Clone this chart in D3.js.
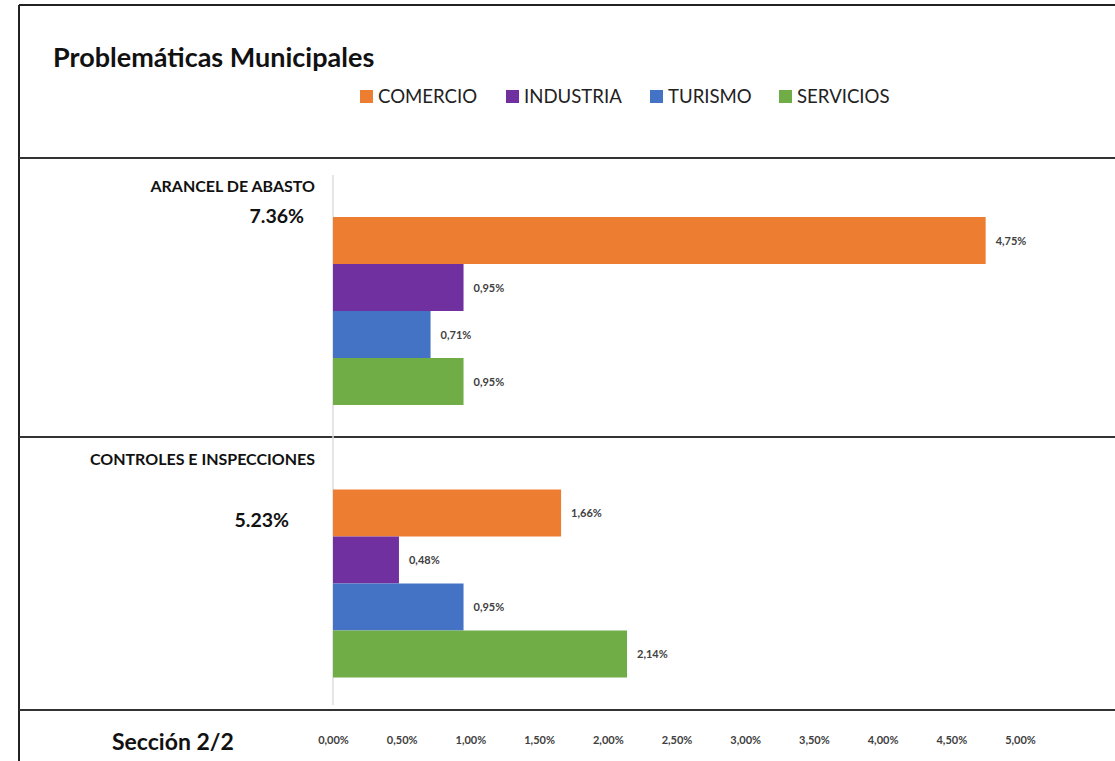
<!DOCTYPE html>
<head>
  <meta charset="utf-8">
  <title>Problemáticas Municipales</title>
  <script src="https://d3js.org/d3.v7.min.js"></script>
  <style>
    body { margin: 0; background: #fff; font-family: Lato, "Open Sans", sans-serif; }
  </style>
</head>
<body>
  <div id="chart"></div>
  <script>
    // Daten
    var categories = ['ARANCEL DE ABASTO', 'CONTROLES E INSPECCIONES'];
    var totals = ['7.36%', '5.23%'];
    var series = ['COMERCIO', 'INDUSTRIA', 'TURISMO', 'SERVICIOS'];
    var colors = ['#ED7D31', '#7030A0', '#4472C4', '#70AD47'];
    var values = [
      [0.0475, 0.0095, 0.0071, 0.0095],
      [0.0166, 0.0048, 0.0095, 0.0214]
    ];
    var ticks = [0, 0.005, 0.01, 0.015, 0.02, 0.025, 0.03, 0.035, 0.04, 0.045, 0.05];

    var width = 1115, height = 761;
    var fmt = function (v) { return (v * 100).toFixed(2).replace('.', ',') + '%'; };

    var svg = d3.select('#chart').append('svg')
      .attr('width', width)
      .attr('height', height);

    var x = d3.scaleLinear().domain([0, 0.05]).range([333, 1020]);
    var yGroup = d3.scaleBand().domain(categories).range([175, 720]);
    var ySeries = d3.scaleBand().domain(series).range([42, 230]);

    // Rahmen
    svg.append('line').attr('x1', 19).attr('x2', 19).attr('y1', 5).attr('y2', height)
      .attr('stroke', '#222').attr('stroke-width', 2);
    svg.append('line').attr('x1', 19).attr('x2', width).attr('y1', 5).attr('y2', 5)
      .attr('stroke', '#222').attr('stroke-width', 2);
    [158, 437, 710].forEach(function (yy) {
      svg.append('line').attr('x1', 19).attr('x2', width).attr('y1', yy).attr('y2', yy)
        .attr('stroke', '#333').attr('stroke-width', 2);
    });

    // Titel
    svg.append('text').attr('x', 53).attr('y', 67)
      .style('font-size', '27px').style('font-weight', 'bold').attr('fill', '#111')
      .text('Problemáticas Municipales');

    // Legende
    var legendX = [360, 506, 650, 779];
    var legend = svg.selectAll('.legend').data(series).enter().append('g')
      .attr('transform', function (d, i) { return 'translate(' + legendX[i] + ',90)'; });
    legend.append('rect').attr('width', 13).attr('height', 13)
      .attr('fill', function (d, i) { return colors[i]; });
    legend.append('text').attr('x', 18).attr('y', 13)
      .style('font-size', '18.6px').attr('fill', '#222')
      .text(function (d) { return d; });

    // Nulllinie
    svg.append('line').attr('x1', x(0)).attr('x2', x(0)).attr('y1', 175).attr('y2', 705)
      .attr('stroke', '#ddd').attr('stroke-width', 1.5);

    var totalDy = [41, 72];
    var groups = svg.selectAll('.group').data(categories).enter().append('g')
      .attr('transform', function (d) { return 'translate(0,' + yGroup(d) + ')'; });

    groups.append('text').attr('x', 315).attr('y', 17)
      .attr('text-anchor', 'end')
      .style('font-size', '16px').style('font-weight', 'bold').attr('fill', '#111')
      .text(function (d) { return d; });
    groups.append('text').attr('x', function (d, i) { return i === 0 ? 304 : 289; })
      .attr('y', function (d, i) { return totalDy[i] + 7; })
      .attr('text-anchor', 'end')
      .style('font-size', '19.5px').style('font-weight', 'bold').attr('fill', '#111')
      .text(function (d, i) { return totals[i]; });

    groups.each(function (cat, ci) {
      var g = d3.select(this);
      var rows = series.map(function (s, si) { return { s: s, v: values[ci][si], c: colors[si] }; });
      g.selectAll('rect').data(rows).enter().append('rect')
        .attr('x', x(0))
        .attr('y', function (d) { return ySeries(d.s); })
        .attr('width', function (d) { return x(d.v) - x(0); })
        .attr('height', ySeries.bandwidth())
        .attr('fill', function (d) { return d.c; });
      g.selectAll('.lbl').data(rows).enter().append('text')
        .attr('x', function (d) { return x(d.v) + 10; })
        .attr('y', function (d) { return ySeries(d.s) + ySeries.bandwidth() / 2 + 4; })
        .style('font-size', '11px').style('font-weight', 'bold').attr('fill', '#404040')
        .text(function (d) { return fmt(d.v); });
    });

    // x-Achse
    var axis = svg.append('g').attr('transform', 'translate(0,733)')
      .call(d3.axisBottom(x).tickValues(ticks).tickSize(0).tickFormat(fmt));
    axis.select('.domain').remove();
    axis.selectAll('text').style('font-size', '11px').style('font-weight', 'bold')
      .style('font-family', 'Lato, sans-serif').attr('fill', '#404040');

    svg.append('text').attr('x', 112).attr('y', 750)
      .style('font-size', '23px').style('font-weight', 'bold').attr('fill', '#111')
      .text('Sección 2/2');
  </script>
</body>
